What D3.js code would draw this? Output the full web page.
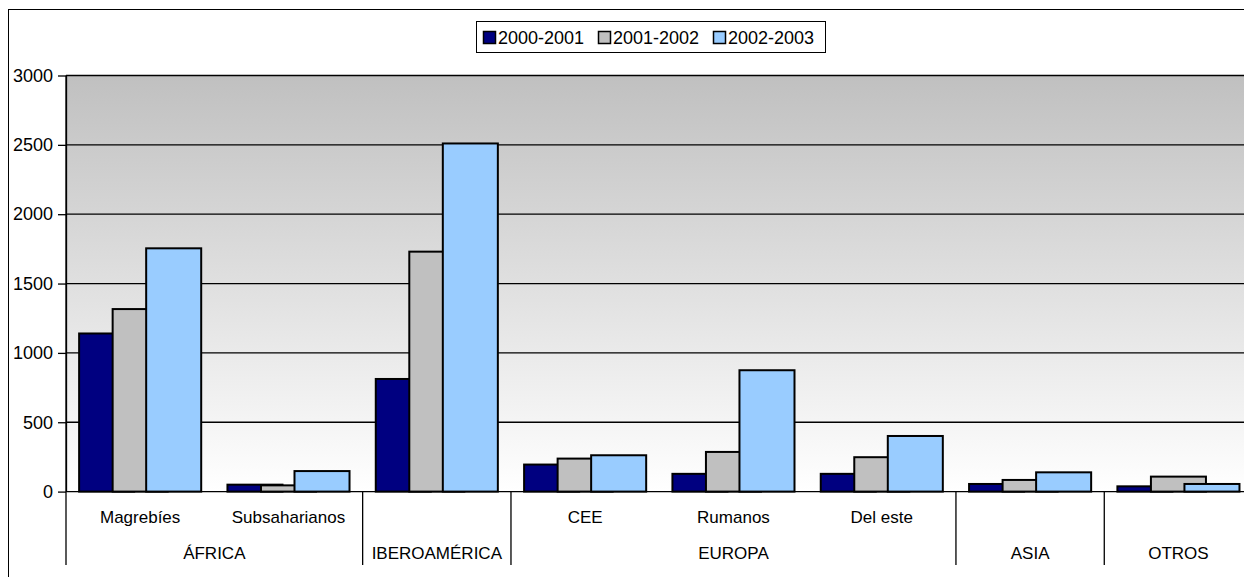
<!DOCTYPE html>
<html>
<head>
<meta charset="utf-8">
<script src="https://cdn.jsdelivr.net/npm/d3@7"></script>
<style>
  html, body { margin: 0; padding: 0; background: #fff; }
  svg { display: block; }
  text { font-family: "Liberation Sans", Arial, sans-serif; fill: #000; }
</style>
</head>
<body>
<svg id="chart" width="1244" height="577"></svg>
<script>
// ---- data ----
const categories = ["Magrebíes", "Subsaharianos", "", "CEE", "Rumanos", "Del este", "", ""];
const groups = ["ÁFRICA", "IBEROAMÉRICA", "EUROPA", "ASIA", "OTROS"];
const groupSizes = [2, 1, 3, 1, 1];
const seriesNames = ["2000-2001", "2001-2002", "2002-2003"];
const s2000_2001 = [1140, 50, 812, 195, 128, 128, 55, 38];
const s2001_2002 = [1316, 45, 1730, 238, 286, 248, 84, 108];
const s2002_2003 = [1754, 148, 2510, 262, 875, 401, 139, 55];
const seriesColors = ["#000080", "#c0c0c0", "#99ccff"];
const yTicks = [0, 500, 1000, 1500, 2000, 2500, 3000];

const series = [s2000_2001, s2001_2002, s2002_2003];

const svg = d3.select("#chart");
const plot = { left: 66, right: 1252.6, top: 75.5, bottom: 491.6 };

// outer frame
svg.append("rect")
  .attr("x", 8.5).attr("y", 9.5)
  .attr("width", 1260).attr("height", 600)
  .attr("fill", "#fff").attr("stroke", "#000").attr("stroke-width", 1);

// scales
const slots = categories.map((c, i) => i);
const x = d3.scaleBand().domain(slots).range([plot.left, plot.right]).paddingInner(0).paddingOuter(0);
const y = d3.scaleLinear().domain([0, 3000]).range([plot.bottom, plot.top]);
const bw = x.bandwidth();
const barW = bw * 0.371;
const step = bw * 0.226;
const groupW = step * (series.length - 1) + barW;
const xs = d3.scaleLinear().domain([0, series.length - 1]).range([0, step * (series.length - 1)]);
const offset = (bw - groupW) / 2;

// gradient background
const defs = svg.append("defs");
const grad = defs.append("linearGradient").attr("id", "bg")
  .attr("x1", 0).attr("y1", 0).attr("x2", 0).attr("y2", 1);
grad.append("stop").attr("offset", "0%").attr("stop-color", "#c0c0c0");
grad.append("stop").attr("offset", "100%").attr("stop-color", "#ffffff");

svg.append("rect")
  .attr("x", plot.left).attr("y", plot.top)
  .attr("width", plot.right - plot.left).attr("height", plot.bottom - plot.top)
  .attr("fill", "url(#bg)");

// gridlines
svg.append("g").selectAll("line").data(yTicks.filter(d => d > 0)).join("line")
  .attr("x1", plot.left).attr("x2", plot.right)
  .attr("y1", d => y(d)).attr("y2", d => y(d))
  .attr("stroke", "#000").attr("stroke-width", 1.3);

// y axis
const yAxis = d3.axisLeft(y).tickValues(yTicks).tickFormat(d3.format("d"))
  .tickSize(8).tickPadding(5).tickSizeOuter(0);
const yg = svg.append("g").attr("transform", `translate(${plot.left},0)`).call(yAxis);
yg.select(".domain").attr("stroke", "#000").attr("stroke-width", 1.3);
yg.selectAll(".tick line").attr("stroke", "#000").attr("stroke-width", 1.3);
yg.selectAll(".tick text")
  .style("font-family", "'Liberation Sans', Arial, sans-serif")
  .style("font-size", "18px").attr("fill", "#000");

// bars
series.forEach((vals, si) => {
  svg.append("g").selectAll("rect").data(vals).join("rect")
    .attr("x", (d, i) => x(i) + offset + xs(si))
    .attr("y", d => y(d))
    .attr("width", barW)
    .attr("height", d => y(0) - y(d))
    .attr("fill", seriesColors[si])
    .attr("stroke", "#000").attr("stroke-width", 2);
});

// baseline (category axis)
svg.append("line")
  .attr("x1", plot.left).attr("x2", plot.right)
  .attr("y1", y(0)).attr("y2", y(0))
  .attr("stroke", "#000").attr("stroke-width", 1.3);

// multi-level category axis
const axisBottom = 565;
svg.append("line")
  .attr("x1", plot.left).attr("x2", plot.left)
  .attr("y1", plot.top).attr("y2", axisBottom)
  .attr("stroke", "#000").attr("stroke-width", 1.3);

let idx = 0;
const groupBounds = groupSizes.map(n => {
  const start = idx; idx += n;
  return { start, end: idx };
});
svg.append("g").selectAll("line").data(groupBounds).join("line")
  .attr("x1", d => x(d.end - 1) + bw).attr("x2", d => x(d.end - 1) + bw)
  .attr("y1", y(0)).attr("y2", axisBottom)
  .attr("stroke", "#000").attr("stroke-width", 1.3);

svg.append("g").selectAll("text").data(categories).join("text")
  .attr("x", (d, i) => x(i) + bw / 2)
  .attr("y", 523)
  .attr("text-anchor", "middle")
  .style("font-size", "17px")
  .text(d => d);

svg.append("g").selectAll("text").data(groups).join("text")
  .attr("x", (d, i) => (x(groupBounds[i].start) + x(groupBounds[i].end - 1) + bw) / 2)
  .attr("y", 559)
  .attr("text-anchor", "middle")
  .style("font-size", "17px")
  .text(d => d);

// legend
const lg = svg.append("g");
lg.append("rect")
  .attr("x", 476.5).attr("y", 21.5).attr("width", 349).attr("height", 31)
  .attr("fill", "#fff").attr("stroke", "#000").attr("stroke-width", 1);
const legendX = [483, 598, 713];
seriesNames.forEach((name, i) => {
  lg.append("rect")
    .attr("x", legendX[i] + 0.5).attr("y", 31.5).attr("width", 12).attr("height", 12)
    .attr("fill", seriesColors[i]).attr("stroke", "#000").attr("stroke-width", 1.5);
  lg.append("text")
    .attr("x", legendX[i] + 15).attr("y", 44)
    .style("font-size", "18px")
    .text(name);
});
</script>
</body>
</html>
